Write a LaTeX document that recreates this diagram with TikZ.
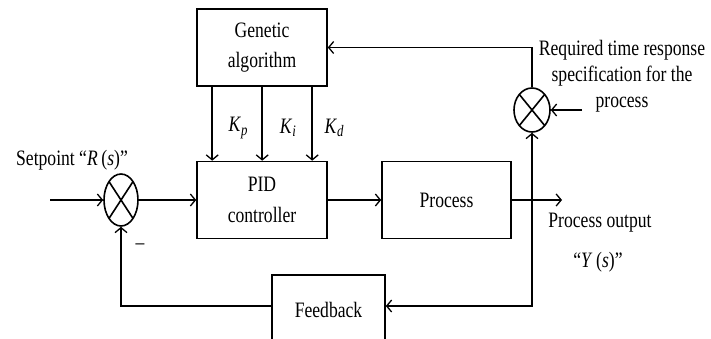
\documentclass[tikz,border=0pt]{standalone}
\usepackage{fontspec}
\setmainfont{Liberation Serif}[FakeStretch=0.8]
\usetikzlibrary{arrows.meta,shapes.geometric,calc}
\newcommand{\ksub}[2]{\textit{#1}\raisebox{-0.3ex}{\fontsize{16}{16}\selectfont\textit{#2}}}
\begin{document}
\begin{tikzpicture}[x=1pt,y=1pt,
  every node/.style={font=\fontsize{22}{28}\selectfont},
  blk/.style={draw,line width=1.6pt,inner sep=0pt,align=center},
  sumj/.style={draw,line width=1.6pt,ellipse,inner sep=0pt},
  wire/.style={line width=1.6pt},
  arr/.style={wire,-{Straight Barb[length=5pt,width=12pt,line width=1.3pt]}},
  lbl/.style={inner sep=0pt,align=center}]
\clip (0,0) rectangle (711,-338);
\fill[white] (0,0) rectangle (711,-338);
% blocks
\node[blk,minimum width=130,minimum height=77,font=\fontsize{22}{30}\selectfont] (ga) at (262,-47.5) {Genetic\\algorithm};
\node[blk,minimum width=130,minimum height=77,font=\fontsize{22}{31}\selectfont] (pid) at (262,-200) {PID\\controller};
\node[blk,minimum width=129,minimum height=77] (proc) at (446.5,-200) {Process};
\node[blk,minimum width=113,minimum height=70] (fb) at (328.5,-310) {Feedback};
% summing junctions
\node[sumj,minimum width=34,minimum height=52] (s1) at (121,-200) {};
\node[sumj,minimum width=36,minimum height=44] (s2) at (532,-110) {};
\draw[wire] ($(s1)+(-12,18.4)$) -- ($(s1)+(12,-18.4)$);
\draw[wire] ($(s1)+(-12,-18.4)$) -- ($(s1)+(12,18.4)$);
\draw[wire] ($(s2)+(-12.7,15.6)$) -- ($(s2)+(12.7,-15.6)$);
\draw[wire] ($(s2)+(-12.7,-15.6)$) -- ($(s2)+(12.7,15.6)$);
% free ends
\coordinate (in) at (50,-200);
\coordinate (out) at (562,-200);
\coordinate (tap) at (532,-200);
\coordinate (fbr) at (532,-306);
\coordinate (fbl) at (121,-306);
\coordinate (req) at (582,-110);
% connectors
\draw[arr] (in) -- (s1.west);
\draw[arr] (s1.east) -- (pid.west);
\draw[arr] ($(ga.south west)+(16,0)$) -- ($(pid.north west)+(16,0)$);
\draw[arr] ($(ga.south west)+(66,0)$) -- ($(pid.north west)+(66,0)$);
\draw[arr] ($(ga.south west)+(116,0)$) -- ($(pid.north west)+(116,0)$);
\draw[arr] (pid.east) -- (proc.west);
\draw[arr] (proc.east) -- (out);
\draw[arr] (tap) -- (s2.south);
\draw[arr] (tap) -- (fbr) -- (fb.east |- fbr);
\draw[arr] (fb.west |- fbl) -- (fbl) -- (s1.south);
\draw[arr] (s2.north) |- (ga.east);
\draw[arr] (req) -- (s2.east);
% labels
\node[lbl] (kp) at (238,-128) {\ksub{K}{p}};
\node[lbl] (ki) at (288,-128) {\ksub{K}{i}};
\node[lbl] (kd) at (334,-128) {\ksub{K}{d}};
\node[lbl] (sp) at (72,-160) {Setpoint \textquotedblleft\textit{R}\,(\textit{s})\textquotedblright};
\node[lbl] (minus) at (140,-247) {--};
\node[lbl] (po) at (600,-223) {Process output};
\node[lbl] (ys) at (598,-262) {\textquotedblleft\textit{Y}\,(\textit{s})\textquotedblright};
\node[lbl,font=\fontsize{22}{26}\selectfont] (rq) at (622,-76) {Required time response\\specification for the\\process};
\end{tikzpicture}
\end{document}
